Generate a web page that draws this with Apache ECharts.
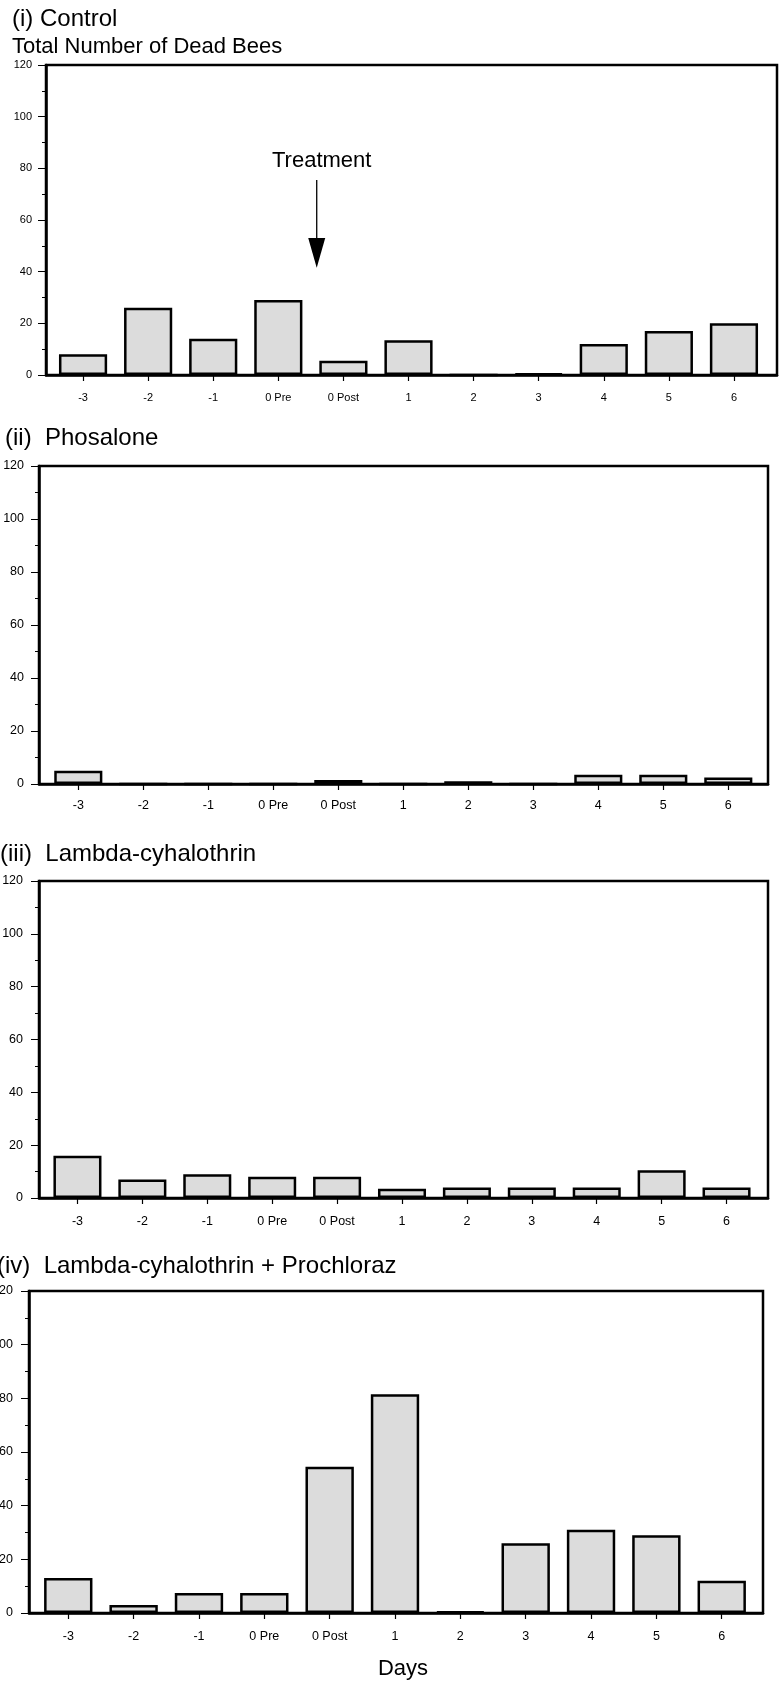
<!DOCTYPE html>
<html>
<head>
<meta charset="utf-8">
<script src="https://cdn.jsdelivr.net/npm/echarts@6/dist/echarts.min.js"></script>
<style>
  html, body { margin: 0; padding: 0; background: #fff; }
  #main { width: 783px; height: 1683px; }
</style>
</head>
<body>
<div id="main"></div>
<script>
// categories and values
var days = ['-3', '-2', '-1', '0 Pre', '0 Post', '1', '2', '3', '4', '5', '6'];
var controlDead = [8, 26, 14, 29, 5.5, 13.5, 0, 0.5, 12, 17, 20];
var phosaloneDead = [5, 0, 0, 0, 1.5, 0, 1, 0, 3.5, 3.5, 2.5];
var lambdaDead = [16, 7, 9, 8, 8, 3.5, 4, 4, 4, 10.5, 4];
var lambdaProchlorazDead = [13, 3, 7.5, 7.5, 54.5, 81.5, 0.5, 26, 31, 29, 12];
var yMin = 0, yMax = 120, yStep = 20;

var panelTitles = ['(i) Control', '(ii)  Phosalone', '(iii)  Lambda-cyhalothrin', '(iv)  Lambda-cyhalothrin + Prochloraz'];
var panelData = [controlDead, phosaloneDead, lambdaDead, lambdaProchlorazDead];

var FONT = '"Liberation Sans", Arial, sans-serif';

// frame = boxed plot area, band = where the day categories sit (a bit inset)
var panels = [
    { frameL: 46, frameR: 6, bandL: 50.5, bandR: 16.5, top: 65, height: 310, titleX: 12, titleY: 19, titleSize: 24, yMargin: 14, xMargin: 17, tickFont: 11 },
    { frameL: 39, frameR: 15, bandL: 45.8, bandR: 22.2, top: 466, height: 318, titleX: 5, titleY: 438, titleSize: 24, yMargin: 15, xMargin: 15, tickFont: 12.5 },
    { frameL: 39, frameR: 15, bandL: 45, bandR: 24, top: 881, height: 317, titleX: 0, titleY: 854, titleSize: 24, yMargin: 16, xMargin: 17, tickFont: 12.5 },
    { frameL: 29, frameR: 20, bandL: 35.6, bandR: 28.6, top: 1291, height: 322, titleX: -3, titleY: 1266, titleSize: 24, yMargin: 16, xMargin: 17, tickFont: 12.5 }
];

var chart = echarts.init(document.getElementById('main'));

var grids = [], xAxes = [], yAxes = [], series = [], graphics = [];

for (var i = 0; i < panels.length; i++) {
    var p = panels[i];
    var frameIdx = grids.length;
    // frame grid: box + y axis
    grids.push({
        left: p.frameL, right: p.frameR, top: p.top, height: p.height,
        outerBoundsMode: 'none', containLabel: false,
        show: true, borderColor: '#000', borderWidth: 2.5, backgroundColor: 'transparent'
    });
    xAxes.push({
        gridIndex: frameIdx, type: 'category', data: days,
        axisLine: { lineStyle: { color: '#000', width: 2.5 } },
        axisTick: { show: false }, axisLabel: { show: false }, splitLine: { show: false }
    });
    yAxes.push({
        gridIndex: frameIdx, type: 'value',
        min: yMin, max: yMax, interval: yStep,
        axisLine: { show: true, lineStyle: { color: '#000', width: 2.5 } },
        axisTick: { show: true, length: 8, lineStyle: { color: '#000', width: 1 } },
        minorTick: { show: true, splitNumber: 2, length: 4, lineStyle: { color: '#000', width: 1 } },
        axisLabel: { color: '#000', fontSize: p.tickFont, fontFamily: FONT, margin: p.yMargin },
        splitLine: { show: false }
    });
    // band grid: day labels + bars
    var bandIdx = grids.length;
    grids.push({ left: p.bandL, right: p.bandR, top: p.top, height: p.height, outerBoundsMode: 'none', containLabel: false });
    xAxes.push({
        gridIndex: bandIdx, type: 'category', data: days,
        axisLine: { show: false },
        axisTick: { show: true, alignWithLabel: true, length: 6, lineStyle: { color: '#000', width: 1.2 } },
        axisLabel: { color: '#000', fontSize: p.tickFont, fontFamily: FONT, margin: p.xMargin, interval: 0 },
        splitLine: { show: false }
    });
    yAxes.push({
        gridIndex: bandIdx, type: 'value', min: yMin, max: yMax, interval: yStep, show: false
    });
    series.push({
        type: 'bar',
        xAxisIndex: bandIdx,
        yAxisIndex: bandIdx,
        data: panelData[i],
        barCategoryGap: '26%',
        itemStyle: { color: '#dcdcdc', borderColor: '#000', borderWidth: 2.5 },
        silent: true
    });
    graphics.push({
        type: 'text',
        x: p.titleX, y: p.titleY,
        style: { text: panelTitles[i], font: p.titleSize + 'px ' + FONT, fill: '#000', verticalAlign: 'middle' }
    });
}

graphics.push({
    type: 'text', x: 12, y: 47,
    style: { text: 'Total Number of Dead Bees', font: '22px ' + FONT, fill: '#000', verticalAlign: 'middle' }
});
graphics.push({
    type: 'text', x: 403, y: 1669,
    style: { text: 'Days', font: '22px ' + FONT, fill: '#000', align: 'center', verticalAlign: 'middle' }
});

chart.setOption({
    animation: false,
    grid: grids,
    xAxis: xAxes,
    yAxis: yAxes,
    series: series,
    graphic: graphics
});

// treatment arrow in the control panel, between "0 Pre" and "0 Post"
var finder = { xAxisIndex: 1, yAxisIndex: 1 };
var pre = chart.convertToPixel(finder, ['0 Pre', 75.5]);
var post = chart.convertToPixel(finder, ['0 Post', 41.5]);
var headTop = chart.convertToPixel(finder, ['0 Post', 53])[1];
var ax = pre[0] + (post[0] - pre[0]) * 0.59;
graphics.push({
    type: 'text', x: ax + 5, y: pre[1] - 19,
    style: { text: 'Treatment', font: '22px ' + FONT, fill: '#000', align: 'center', verticalAlign: 'middle' }
});
graphics.push({
    type: 'line',
    shape: { x1: ax, y1: pre[1], x2: ax, y2: headTop },
    style: { stroke: '#000', lineWidth: 1.3 }
});
graphics.push({
    type: 'polygon',
    shape: { points: [[ax - 8.5, headTop], [ax + 8.5, headTop], [ax, post[1]]] },
    style: { fill: '#000' }
});
chart.setOption({ graphic: graphics });
</script>
</body>
</html>
